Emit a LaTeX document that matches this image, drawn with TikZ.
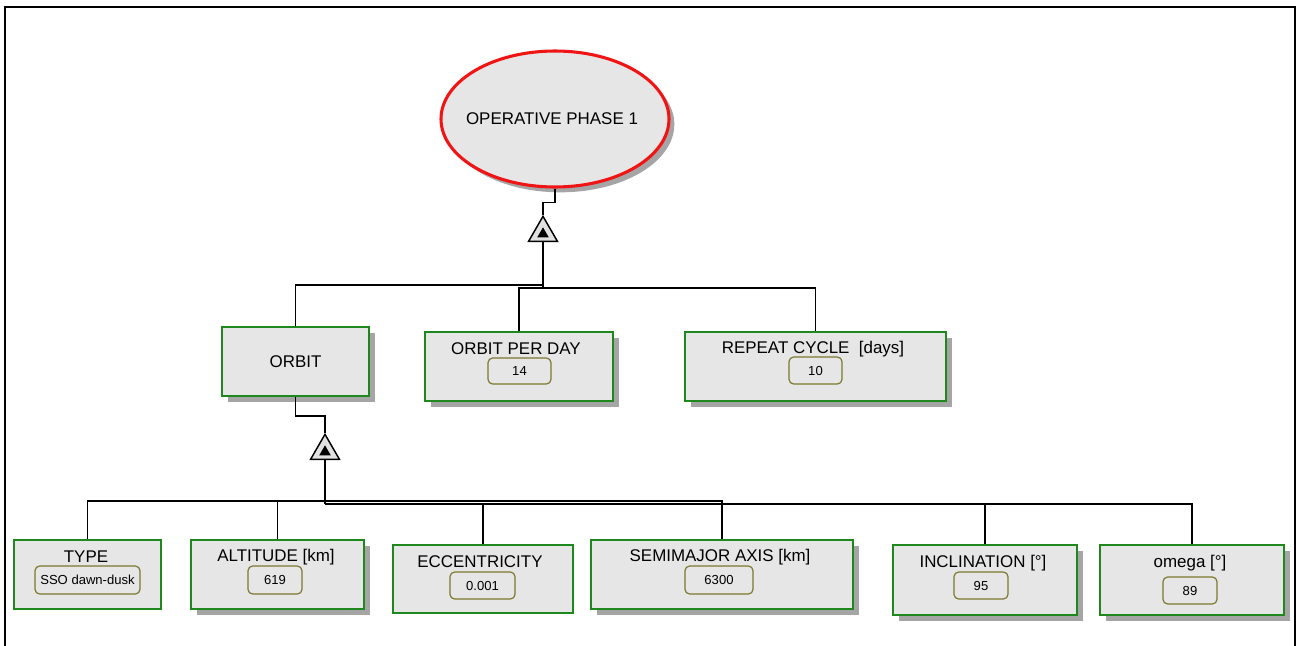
\documentclass[tikz,border=0pt]{standalone}
\usepackage{fontspec}
\setmainfont{Liberation Sans}
\usetikzlibrary{shapes.geometric,shadows}
\definecolor{boxgray}{RGB}{230,230,230}
\definecolor{boxgreen}{RGB}{30,135,30}
\definecolor{valolive}{RGB}{125,120,45}
\definecolor{shadgray}{RGB}{165,165,165}
\definecolor{trigray}{RGB}{225,225,225}
\definecolor{ellred}{RGB}{240,20,20}
\begin{document}
\begin{tikzpicture}[x=0.75pt,y=-0.75pt,
  box/.style={draw=boxgreen, line width=1.5pt, fill=boxgray, inner sep=0pt, font=\fontsize{12.7}{14}\selectfont},
  shad/.style={general shadow={fill=shadgray, shadow xshift=4.5pt, shadow yshift=-4.5pt}},
  val/.style={draw=valolive, line width=0.9pt, rounded corners=3.5pt, fill=boxgray, inner sep=0pt, font=\fontsize{9.8}{11}\selectfont},
  ttl/.style={inner sep=0pt, font=\fontsize{12.7}{14}\selectfont},
  link/.style={line width=1.1pt},
  trunk/.style={line width=2.2pt},
  tri/.style={regular polygon, regular polygon sides=3, draw=black, line width=1.1pt, fill=trigray, inner sep=0pt, minimum size=25pt},
  tridot/.style={regular polygon, regular polygon sides=3, fill=black, inner sep=0pt, minimum size=10pt},
  frame/.style={line width=1.5pt}]
\useasboundingbox (0,0) rectangle (1297,646);
\clip (0,0) rectangle (1297,646);
% frame
\coordinate (f1) at (5,700);
\coordinate (f2) at (5,7);
\coordinate (f3) at (1295,7);
\coordinate (f4) at (1295,700);
\draw[frame] (f1) -- (f2) -- (f3) -- (f4);

% top ellipse
\node[ellipse, draw=ellred, line width=2.3pt, fill=boxgray, inner sep=0pt, minimum width=171pt, minimum height=102pt,
  general shadow={fill=shadgray, shadow xshift=4pt, shadow yshift=-4pt}]
  (top) at (555,119) {};
\node[ttl] (topt) at (552,119) {OPERATIVE PHASE 1};

% triangles
\node[tri] (t1) at (543,233) {};
\node[tridot] (t1d) at (543,234) {};
\node[tri] (t2) at (325,451) {};
\node[tridot] (t2d) at (325,452) {};

% upper row
\node[box, shad, minimum width=110.25pt, minimum height=51.75pt] (orbit) at (295.5,361.5) {ORBIT};
\node[box, shad, minimum width=141pt, minimum height=51.75pt] (opd) at (519,366.5) {};
\node[ttl] (opdt) at (516,349) {ORBIT PER DAY};
\node[val, minimum width=47.25pt, minimum height=19.5pt] (opdv) at (519.5,371) {14};
\node[box, shad, minimum width=195.75pt, minimum height=51.75pt] (rc) at (815.5,366.5) {};
\node[ttl] (rct) at (813,349) {REPEAT CYCLE \ [days]};
\node[val, minimum width=39.75pt, minimum height=20.25pt] (rcv) at (815.5,370.5) {10};

% lower row
\node[box, minimum width=110.25pt, minimum height=51.75pt] (type) at (87.5,574.5) {};
\node[ttl] (typet) at (86,557) {TYPE};
\node[val, minimum width=78.75pt, minimum height=21pt] (typev) at (87.5,580) {SSO dawn-dusk};

\node[box, shad, minimum width=129.75pt, minimum height=51.75pt] (alt) at (277.5,574.5) {};
\node[ttl] (altt) at (276,557) {ALTITUDE [km]};
\node[val, minimum width=40.5pt, minimum height=21pt] (altv) at (275,580) {619};

\node[box, minimum width=135pt, minimum height=51pt] (ecc) at (483,579) {};
\node[ttl] (ecct) at (480,562) {ECCENTRICITY};
\node[val, minimum width=48.75pt, minimum height=20.25pt] (eccv) at (482.5,585.5) {0.001};

\node[box, shad, minimum width=196.5pt, minimum height=51.75pt] (semi) at (722,574.5) {};
\node[ttl] (semit) at (720,557) {SEMIMAJOR AXIS [km]};
\node[val, minimum width=51pt, minimum height=21pt] (semiv) at (719,580) {6300};

\node[box, shad, minimum width=138pt, minimum height=52.5pt] (incl) at (985,580) {};
\node[ttl] (inclt) at (983,563) {INCLINATION [°]};
\node[val, minimum width=40.5pt, minimum height=20.25pt] (inclv) at (981,585.5) {95};

\node[box, shad, minimum width=138pt, minimum height=52.5pt] (omega) at (1192,580) {};
\node[ttl] (omegat) at (1190,563) {omega [°]};
\node[val, minimum width=40.5pt, minimum height=20.25pt] (omegav) at (1190,590.5) {89};

% junctions
\coordinate (jA) at (543,285);
\coordinate (jB) at (543,288);
\coordinate (jL) at (325,501);
\coordinate (jR) at (325,504);

% upper connectors
\draw[link] (top.south) -- ++(0,14) -| (t1.corner 1);
\draw[trunk] (t1.south) -- (jB);
\draw[link] (orbit.north) |- (jA);
\draw[link] (opd.north) |- (jB) -| (rc.north);

% lower connectors
\draw[link] (orbit.south) -- ++(0,19) -| (t2.corner 1);
\draw[trunk] (t2.south) -- (jR);
\draw[link] (type.north) |- (jL) -| (semi.north);
\draw[link] (alt.north) -- (alt.north |- jL);
\draw[link] (ecc.north) |- (jR);
\draw[link] (jR) -| (omega.north);
\draw[link] (incl.north) -- (incl.north |- jR);
\end{tikzpicture}
\end{document}
